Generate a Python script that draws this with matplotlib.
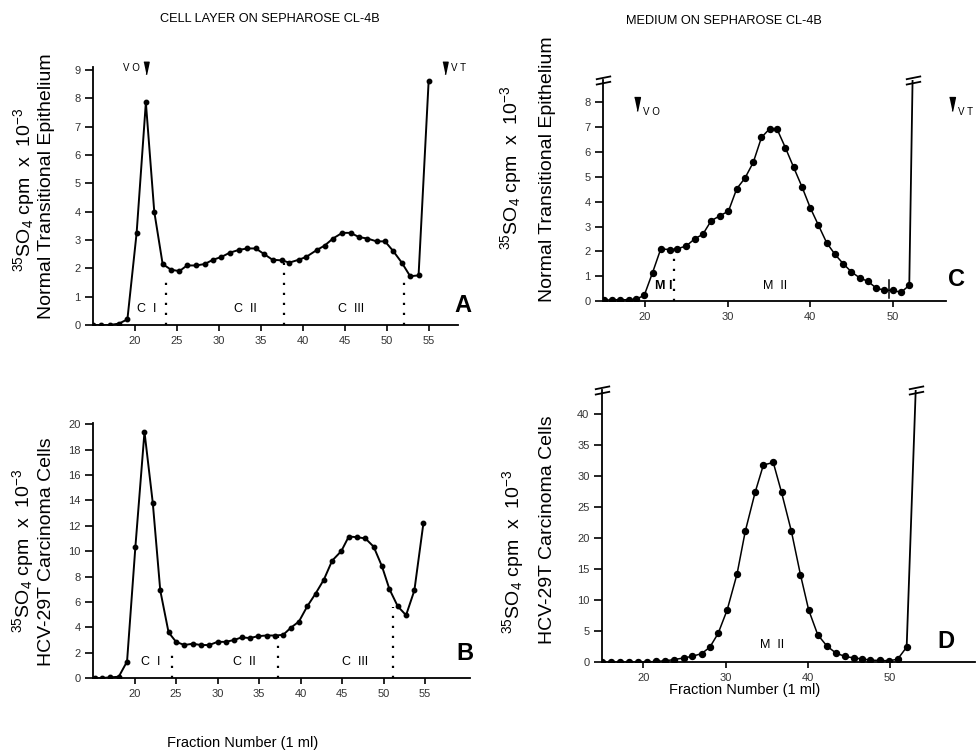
#!/usr/bin/env python3

"""
Sepharose CL-4B elution profiles of 35SO4 labelled material:
cell layer (A, B) and medium (C, D).
"""

import matplotlib
matplotlib.use("Agg")
import matplotlib.pyplot as plt
from matplotlib.path import Path

W, H = 978, 756

# A: cell layer, normal transitional epithelium
a_frac = [15.0, 16.0, 17.0, 18.1, 19.1, 20.2, 21.3, 22.3, 23.3, 24.3,
          25.3, 26.2, 27.3, 28.3, 29.3, 30.3, 31.3, 32.4, 33.4, 34.4,
          35.4, 36.4, 37.5, 38.4, 39.5, 40.4, 41.7, 42.6, 43.6, 44.7,
          45.7, 46.7, 47.7, 48.8, 49.8, 50.8, 51.8, 52.8, 53.8, 55.0]
a_cpm = [0, 0, 0, 0.05, 0.2, 3.25, 7.85, 4.0, 2.15, 1.95,
         1.9, 2.1, 2.1, 2.15, 2.3, 2.4, 2.55, 2.65, 2.7, 2.7,
         2.5, 2.3, 2.28, 2.2, 2.3, 2.4, 2.65, 2.8, 3.05, 3.25,
         3.25, 3.1, 3.05, 2.95, 2.95, 2.6, 2.2, 1.72, 1.75, 8.6]
a_cuts = [23.75, 37.8, 52.1]
a_cut_tops = [1.65, 2.2, 1.5]
a_peaks = ["C  I", "C  II", "C  III"]
a_peak_x = [21.4, 33.2, 45.7]

# B: cell layer, HCV-29T carcinoma cells
b_frac = [15.2, 16.1, 17.1, 18.1, 19.1, 20.1, 21.2, 22.2, 23.1, 24.1,
          25.0, 26.0, 27.0, 28.0, 29.0, 30.0, 31.0, 32.0, 32.9, 33.9,
          34.9, 35.9, 36.9, 37.9, 38.8, 39.8, 40.8, 41.8, 42.8, 43.8,
          44.9, 45.8, 46.8, 47.8, 48.8, 49.8, 50.7, 51.7, 52.7, 53.7, 54.8]
b_cpm = [0, 0, 0.05, 0.1, 1.3, 10.3, 19.4, 13.8, 6.9, 3.6,
         2.85, 2.6, 2.7, 2.6, 2.6, 2.85, 2.85, 3.0, 3.2, 3.15,
         3.3, 3.35, 3.35, 3.4, 3.95, 4.45, 5.65, 6.65, 7.75, 9.25,
         10.0, 11.15, 11.1, 11.0, 10.35, 8.8, 7.0, 5.65, 4.95, 6.9, 12.25]
b_cuts = [24.5, 37.3, 51.1]
b_cut_tops = [2.4, 3.3, 5.6]
b_peaks = ["C  I", "C  II", "C  III"]
b_peak_x = [21.9, 33.2, 46.6]

# C: medium, normal transitional epithelium
c_frac = [15.0, 16.0, 17.0, 18.0, 18.9, 19.9, 20.9, 21.9, 23.0, 23.9,
          25.0, 26.0, 27.0, 28.0, 29.1, 30.1, 31.1, 32.1, 33.1, 34.1,
          35.1, 36.0, 37.0, 38.0, 39.0, 40.0, 41.0, 42.0, 43.0, 44.0,
          45.0, 46.0, 47.0, 48.0, 49.0, 50.0, 51.0, 52.0]
c_cpm = [0.03, 0.05, 0.05, 0.05, 0.07, 0.23, 1.14, 2.1, 2.07, 2.1,
         2.22, 2.5, 2.69, 3.23, 3.44, 3.62, 4.52, 4.95, 5.58, 6.59,
         6.94, 6.91, 6.17, 5.38, 4.6, 3.76, 3.05, 2.34, 1.88, 1.5,
         1.17, 0.93, 0.79, 0.52, 0.43, 0.43, 0.35, 0.63]
c_offscale = (52.4, 8.9)

# D: medium, HCV-29T carcinoma cells
d_frac = [15.0, 16.1, 17.2, 18.3, 19.4, 20.5, 21.6, 22.7, 23.8, 24.9,
          25.9, 27.1, 28.1, 29.1, 30.2, 31.4, 32.4, 33.6, 34.6, 35.8,
          36.8, 38.0, 39.1, 40.1, 41.2, 42.3, 43.4, 44.5, 45.6, 46.6,
          47.6, 48.8, 49.9, 50.9, 52.0]
d_cpm = [0, 0, 0, 0, 0, 0, 0.1, 0.2, 0.4, 0.65,
         0.9, 1.35, 2.4, 4.6, 8.4, 14.2, 21.1, 27.4, 31.8, 32.2,
         27.4, 21.1, 14.1, 8.4, 4.4, 2.6, 1.45, 0.9, 0.65, 0.5,
         0.3, 0.25, 0.2, 0.45, 2.4]
d_offscale = (53.1, 43.9)

FONT = ["Liberation Sans", "DejaVu Sans"]
plt.rcParams["font.family"] = FONT
plt.rcParams["mathtext.fontset"] = "custom"
plt.rcParams["mathtext.rm"] = "Liberation Sans"
plt.rcParams["mathtext.it"] = "Liberation Sans:italic"

TRI = [(-0.42, 1.0), (0.42, 1.0), (0.0, -1.0)]
BREAK = Path([(-1, -0.55), (1, -0.15), (-1, 0.15), (1, 0.55)],
             [Path.MOVETO, Path.LINETO, Path.MOVETO, Path.LINETO])


def px_axes(fig, left, top, right, bottom):
    """ add axes given in pixel coords (origin top left) """
    return fig.add_axes([left / W, 1 - bottom / H,
                         (right - left) / W, (bottom - top) / H])


def fig_text(fig, x, y, s, **kw):
    """ text at pixel position """
    fig.text(x / W, 1 - y / H, s, **kw)


def style_axes(ax, xlim, ylim, xticks, yticks):
    ax.set_xlim(*xlim)
    ax.set_ylim(*ylim)
    for side in ("top", "right"):
        ax.spines[side].set_visible(False)
    ax.spines["left"].set_linewidth(1.3)
    ax.spines["bottom"].set_linewidth(1.3)
    ax.set_xticks(xticks)
    ax.set_yticks(yticks)
    ax.tick_params(axis="x", direction="out", length=4, width=1.2, pad=4,
                   labelsize=8, labelcolor="#333333")
    ax.tick_params(axis="y", direction="out", length=6, width=1.2, pad=3,
                   labelsize=8, labelcolor="#333333")
    ax.patch.set_alpha(0)


def draw_cuts(ax, xs, tops):
    for x, top in zip(xs, tops):
        ax.plot([x, x], [0, top], color="black", lw=1.6,
                linestyle=(0, (1, 3.5)))


fig = plt.figure(figsize=(W / 100, H / 100), dpi=100)

# --- A
ax = px_axes(fig, 93, 67, 458, 325)
style_axes(ax, (15, 58.5), (0, 9.1), range(20, 56, 5), range(0, 10))
ax.plot(a_frac, a_cpm, "-o", color="black", lw=1.4, ms=3.2)
draw_cuts(ax, a_cuts, a_cut_tops)
for x, s in zip(a_peak_x, a_peaks):
    ax.text(x, 0.55, s, ha="center", va="center", fontsize=9)
ax.plot([21.3, 57.0], [9.05, 9.05], linestyle="none", marker=TRI,
        ms=9, color="black", clip_on=False)
ax.text(20.6, 9.05, "V O", ha="right", va="center", fontsize=7)
ax.text(57.7, 9.05, "V T", ha="left", va="center", fontsize=7)
fig_text(fig, 463, 305, "A", fontsize=17, fontweight="bold",
         ha="center", va="center")

# --- B
ax = px_axes(fig, 93, 423, 470, 678)
style_axes(ax, (15, 60.4), (0, 20.1), range(20, 56, 5), range(0, 21, 2))
ax.plot(b_frac, b_cpm, "-o", color="black", lw=1.4, ms=3.2)
draw_cuts(ax, b_cuts, b_cut_tops)
for x, s in zip(b_peak_x, b_peaks):
    ax.text(x, 1.25, s, ha="center", va="center", fontsize=9)
fig_text(fig, 465, 653, "B", fontsize=17, fontweight="bold",
         ha="center", va="center")

# --- C
ax = px_axes(fig, 603, 80, 946, 301)
style_axes(ax, (14.9, 56.45), (0, 8.9), range(20, 51, 10), range(0, 9))
ax.plot(c_frac, c_cpm, "-o", color="black", lw=1.1, ms=4.3)
ax.plot([c_frac[-1], c_offscale[0]], [c_cpm[-1], c_offscale[1]],
        color="black", lw=1.3)
ax.plot([14.9, c_offscale[0]], [8.9, 8.9], linestyle="none", marker=BREAK,
        ms=11, mew=1.3, color="black", clip_on=False)
draw_cuts(ax, [23.5], [2.0])
ax.plot([49.5, 49.5], [0.13, 0.83], color="black", lw=1.1)
ax.text(22.3, 0.6, "M I", ha="center", va="center", fontsize=9,
        fontweight="bold")
ax.text(35.8, 0.6, "M  II", ha="center", va="center", fontsize=9)
ax.plot([19.0, 57.2], [7.95, 7.95], linestyle="none", marker=TRI,
        ms=10, color="black", clip_on=False)
ax.text(19.8, 7.6, "V O", ha="left", va="center", fontsize=7)
ax.text(57.9, 7.6, "V T", ha="left", va="center", fontsize=7)
fig_text(fig, 957, 280, "C", fontsize=17, fontweight="bold",
         ha="center", va="center")

# --- D
ax = px_axes(fig, 602, 390, 975, 662)
style_axes(ax, (15, 60.3), (0, 43.9), range(20, 51, 10), range(0, 41, 5))
ax.plot(d_frac, d_cpm, "-o", color="black", lw=1.1, ms=4.3)
ax.plot([d_frac[-1], d_offscale[0]], [d_cpm[-1], d_offscale[1]],
        color="black", lw=1.3)
ax.plot([15, d_offscale[0]], [43.9, 43.9], linestyle="none", marker=BREAK,
        ms=11, mew=1.3, color="black", clip_on=False)
ax.text(35.6, 2.8, "M  II", ha="center", va="center", fontsize=9)
fig_text(fig, 946, 641, "D", fontsize=17, fontweight="bold",
         ha="center", va="center")

# --- labels
cpm_label = r"$^{35}$SO$_4$ cpm  x  10$^{-3}$"
for x1, y1, x2, y2, name in [(24, 190, 47, 186, "Normal Transitional Epithelium"),
                             (23, 551, 47, 552, "HCV-29T Carcinoma Cells"),
                             (511, 168, 547, 169, "Normal Transitional Epithelium"),
                             (513, 552, 547, 530, "HCV-29T Carcinoma Cells")]:
    fig_text(fig, x1, y1, cpm_label, rotation=90, fontsize=14,
             ha="center", va="center")
    fig_text(fig, x2, y2, name, rotation=90, fontsize=14,
             ha="center", va="center")

fig_text(fig, 270, 19, "CELL LAYER ON SEPHAROSE CL-4B", fontsize=9.2,
         ha="center", va="center")
fig_text(fig, 724, 21, "MEDIUM ON SEPHAROSE CL-4B", fontsize=9.2,
         ha="center", va="center")
fig_text(fig, 243, 743, "Fraction Number (1 ml)", fontsize=10.5,
         ha="center", va="center")
fig_text(fig, 745, 690, "Fraction Number (1 ml)", fontsize=10.5,
         ha="center", va="center")

fig.savefig("out.png", dpi=100)
